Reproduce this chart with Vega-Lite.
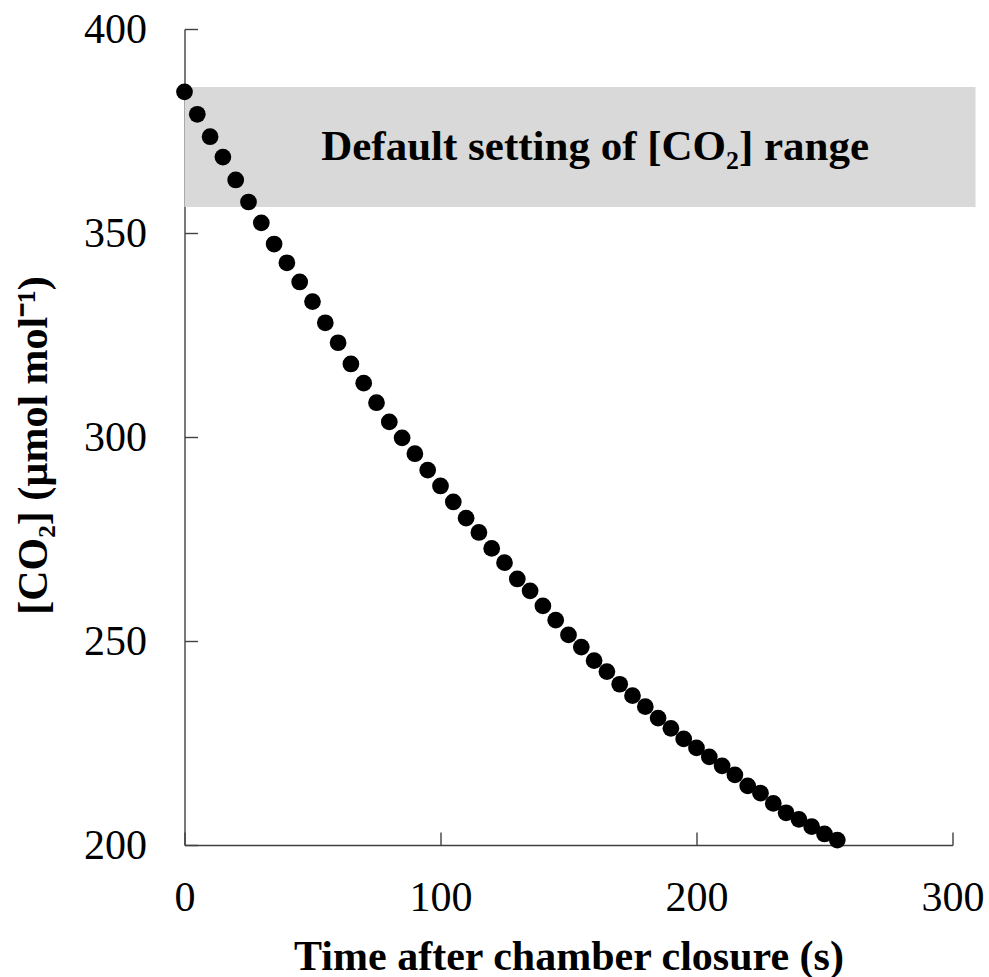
{
  "$schema": "https://vega.github.io/schema/vega-lite/v6.json",
  "width": 768,
  "height": 816,
  "autosize": {"type": "none"},
  "padding": {"left": 184.5, "top": 29, "right": 36.5, "bottom": 132},
  "background": "white",
  "config": {
    "view": {"stroke": null},
    "font": "Liberation Serif",
    "axis": {
      "grid": false,
      "domainColor": "#404040",
      "domainWidth": 1.4,
      "tickColor": "#404040",
      "tickWidth": 1.4,
      "tickSize": -13,
      "labelFlush": false,
      "labelOverlap": false,
      "labelFont": "Liberation Serif",
      "labelFontSize": 42,
      "labelColor": "black",
      "titleFont": "Liberation Serif",
      "titleFontSize": 42,
      "titleFontWeight": "bold",
      "titleColor": "black"
    }
  },
  "datasets": {
    "band": [{"x0": 0, "x1": 309, "y0": 356.4, "y1": 385.8}],
    "note": [{"x": 160.4, "y": 371, "label": "Default setting of [CO₂] range"}],
    "co2": [
      {"t": 0, "c": 384.6}, {"t": 5, "c": 379.1}, {"t": 10, "c": 373.6}, {"t": 15, "c": 368.6},
      {"t": 20, "c": 363.0}, {"t": 25, "c": 357.6}, {"t": 30, "c": 352.5}, {"t": 35, "c": 347.3},
      {"t": 40, "c": 342.7}, {"t": 45, "c": 338.0}, {"t": 50, "c": 333.2}, {"t": 55, "c": 328.0},
      {"t": 60, "c": 323.1}, {"t": 65, "c": 317.9}, {"t": 70, "c": 313.2}, {"t": 75, "c": 308.4},
      {"t": 80, "c": 303.7}, {"t": 85, "c": 299.8}, {"t": 90, "c": 295.9}, {"t": 95, "c": 291.9},
      {"t": 100, "c": 288.0}, {"t": 105, "c": 284.1}, {"t": 110, "c": 280.1}, {"t": 115, "c": 276.6},
      {"t": 120, "c": 272.7}, {"t": 125, "c": 269.2}, {"t": 130, "c": 265.2}, {"t": 135, "c": 262.3},
      {"t": 140, "c": 258.6}, {"t": 145, "c": 255.1}, {"t": 150, "c": 251.5}, {"t": 155, "c": 248.5},
      {"t": 160, "c": 245.2}, {"t": 165, "c": 242.5}, {"t": 170, "c": 239.4}, {"t": 175, "c": 236.6},
      {"t": 180, "c": 233.9}, {"t": 185, "c": 231.1}, {"t": 190, "c": 228.6}, {"t": 195, "c": 226.0},
      {"t": 200, "c": 223.8}, {"t": 205, "c": 221.6}, {"t": 210, "c": 219.4}, {"t": 215, "c": 217.2},
      {"t": 220, "c": 214.5}, {"t": 225, "c": 212.7}, {"t": 230, "c": 210.2}, {"t": 235, "c": 207.9},
      {"t": 240, "c": 206.3}, {"t": 245, "c": 204.5}, {"t": 250, "c": 202.7}, {"t": 255, "c": 201.2}
    ]
  },
  "layer": [
    {
      "data": {"name": "band"},
      "mark": {"type": "rect", "color": "#d9d9d9"},
      "encoding": {
        "x": {"field": "x0", "type": "quantitative", "scale": {"domain": [0, 300], "nice": false},
              "axis": {"values": [0, 100, 200, 300], "title": "Time after chamber closure (s)", "labelPadding": 45, "titlePadding": 18}},
        "x2": {"field": "x1"},
        "y": {"field": "y0", "type": "quantitative", "scale": {"domain": [200, 400], "nice": false, "zero": false},
              "axis": {"values": [200, 250, 300, 350, 400], "title": "[CO₂] (µmol mol⁻¹)", "labelPadding": 51, "titlePadding": 28, "titleY": 416}},
        "y2": {"field": "y1"}
      }
    },
    {
      "data": {"name": "note"},
      "mark": {"type": "text", "font": "Liberation Serif", "fontSize": 43, "fontWeight": "bold", "align": "center", "baseline": "middle", "color": "black"},
      "encoding": {
        "x": {"field": "x", "type": "quantitative"},
        "y": {"field": "y", "type": "quantitative"},
        "text": {"field": "label"}
      }
    },
    {
      "data": {"name": "co2"},
      "mark": {"type": "point", "filled": true, "color": "black", "opacity": 1, "size": 280},
      "encoding": {
        "x": {"field": "t", "type": "quantitative"},
        "y": {"field": "c", "type": "quantitative"}
      }
    }
  ]
}
